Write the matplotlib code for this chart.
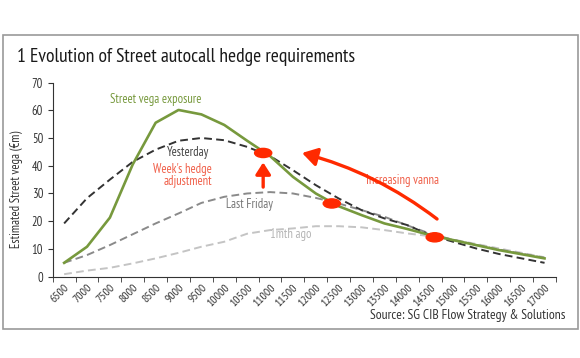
import numpy as np
import matplotlib
matplotlib.use("Agg")
import matplotlib.pyplot as plt
from matplotlib.patches import Ellipse, Rectangle, FancyArrowPatch

plt.rcParams["font.family"] = ["PT Sans Narrow", "DejaVu Sans"]

strikes = [str(s) for s in range(6500, 17001, 500)]

street_vega = [5.0, 10.8, 21.3, 40.5, 55.5, 60.1, 58.5, 54.7, 49.0, 43.5, 36.0,
               30.0, 25.4, 22.2, 19.2, 17.2, 15.0, 13.2, 11.4, 9.6, 8.1, 6.6]
yesterday = [19.2, 28.3, 35.0, 41.4, 45.8, 49.0, 50.0, 49.2, 46.8, 43.5, 38.4,
             33.0, 28.2, 24.0, 21.0, 18.6, 15.0, 12.6, 10.2, 8.2, 6.6, 5.0]
last_friday = [5.0, 7.8, 11.4, 15.3, 19.2, 22.8, 26.6, 28.8, 30.0, 30.5, 30.0,
               28.4, 26.4, 24.0, 21.6, 18.5, 15.5, 13.3, 11.5, 9.8, 8.3, 6.8]
month_ago = [0.9, 2.2, 3.2, 4.8, 6.6, 8.6, 10.8, 12.6, 15.5, 16.8, 17.4,
             18.2, 18.2, 17.8, 16.8, 15.6, 14.6, 13.4, 11.8, 10.2, 8.6, 7.0]

# hedge adjustment dots (category position, value)
dots_x = [8.7, 11.7, 16.2]
dots_y = [44.6, 26.4, 14.2]

green = "#77993d"
red = "#ff2a00"
red_text = "#f0604a"

fig = plt.figure(figsize=(5.8, 3.58), dpi=100)
fig.patches.append(Rectangle((3 / 580, 1 - 329 / 358), 575 / 580, 294 / 358,
                             transform=fig.transFigure, fill=False,
                             edgecolor="#9a9a9a", linewidth=1.2))
fig.text(17 / 580, 1 - 57 / 358, "1 Evolution of Street autocall hedge requirements",
         fontsize=14, color="#1a1a1a", va="center", ha="left")
fig.text(565 / 580, 1 - 315 / 358, "Source: SG CIB Flow Strategy & Solutions",
         fontsize=9.8, color="#333333", va="center", ha="right")

ax = fig.add_axes([52.7 / 580, 1 - 276.7 / 358, 503.3 / 580, 194.2 / 358])
x = np.arange(len(strikes))

ax.plot(x, month_ago, color="#c4c4c4", lw=1.4, dashes=(4, 2.2))
ax.plot(x, last_friday, color="#8a8a8a", lw=1.4, dashes=(4, 2.2))
ax.plot(x, yesterday, color="#333333", lw=1.4, dashes=(4, 2.2))
ax.plot(x, street_vega, color=green, lw=1.9)

for dx, dy in zip(dots_x, dots_y):
    ax.add_patch(Ellipse((dx, dy), 0.75, 3.3, color=red, zorder=5))

ax.add_patch(FancyArrowPatch((8.7, 32.3), (8.7, 41.2),
                             arrowstyle="-|>,head_length=7,head_width=4.5",
                             color=red, lw=2.4, zorder=5, shrinkA=0, shrinkB=0))
ax.add_patch(FancyArrowPatch((16.3, 20.8), (10.4, 44.6),
                             connectionstyle="arc3,rad=0.1",
                             arrowstyle="-|>,head_length=9,head_width=5.5",
                             color=red, lw=2.4, zorder=5, shrinkA=0, shrinkB=0))

ax.text(4.0, 63.9, "Street vega exposure", color=green, fontsize=9, ha="center", va="center")
ax.text(5.4, 44.7, "Yesterday", color="#444444", fontsize=9, ha="center", va="center")
ax.text(6.47, 38.7, "Week's hedge", color=red_text, fontsize=9, ha="right", va="center")
ax.text(6.47, 34.5, "adjustment", color=red_text, fontsize=9, ha="right", va="center")
ax.text(8.1, 26.2, "Last Friday", color="#777777", fontsize=9, ha="center", va="center")
ax.text(9.9, 15.3, "1mth ago", color="#b5b5b5", fontsize=9, ha="center", va="center")
ax.text(14.8, 34.6, "Increasing vanna", color=red_text, fontsize=9, ha="center", va="center")

ax.set_xlim(-0.5, len(strikes) - 0.5)
ax.set_ylim(0, 70)
ax.set_yticks(range(0, 71, 10))
ax.set_xticks(x)
ax.set_xticklabels(strikes, rotation=45, ha="right", va="top", fontsize=8.5,
                   rotation_mode="anchor", color="#333333")
ax.set_xticks(np.arange(-0.5, len(strikes), 1), minor=True)
ax.tick_params(axis="x", which="major", length=0, pad=4)
ax.tick_params(axis="x", which="minor", length=3.5, direction="out", color="#333333")
ax.tick_params(axis="y", length=3.5, labelsize=9, labelcolor="#333333", color="#333333")
ax.set_ylabel("Estimated Street vega (€m)", fontsize=9, color="#333333", labelpad=4)
ax.yaxis.set_label_coords(-0.06, 0.45)
for s in ["top", "right"]:
    ax.spines[s].set_visible(False)
ax.spines["left"].set_color("#333333")
ax.spines["bottom"].set_color("#333333")

fig.savefig("out.png", dpi=100)
